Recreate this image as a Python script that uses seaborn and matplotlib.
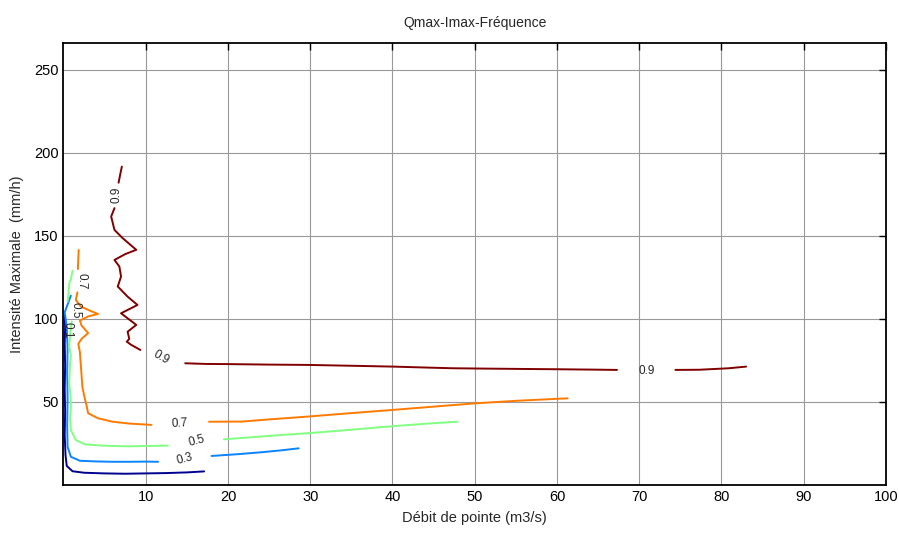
import matplotlib
matplotlib.use('Agg')
import pandas as pd
import matplotlib.pyplot as plt
import seaborn as sns

sns.set_style('white')
plt.rcParams['font.family'] = ['Liberation Sans', 'DejaVu Sans']

# Contour lines (Q in m3/s, I in mm/h), split where labels sit
q01 = [0.15, 0.2, 0.15, 0.2, 0.15, 0.2, 0.15, 0.25, 0.4, 1.1, 2.5, 5, 7.5, 10, 12.5, 15, 17.1]
i01 = [102, 95, 85, 72, 58, 44, 30, 18, 11.5, 8.3, 7.4, 7.0, 6.8, 7.0, 7.2, 7.6, 8.2]

q03a = [0.9, 0.6, 0.15, 0.4, 0.5, 0.45, 0.5, 0.45, 0.5, 0.9, 2.0, 4, 6, 8, 10, 11.5]
i03a = [114, 110, 104, 95, 82, 68, 52, 36, 23, 17, 14.6, 14.2, 14.0, 14.0, 14.1, 14.0]
q03b = [18.0, 21.0, 24.0, 26.5, 28.6]
i03b = [17.5, 18.5, 19.7, 20.9, 22.1]

q05a = [1.1, 0.9, 0.7, 0.6, 0.5]
i05a = [129, 124, 121.5, 115, 110.5]
q05b = [1.0, 0.8, 0.7, 0.9, 0.8, 0.75, 0.7, 0.85, 0.9, 0.8, 0.9, 1.5, 2.6, 4.5, 6.0, 8.0, 10, 12.7]
i05b = [98.5, 90, 83.3, 78, 73.3, 67, 61.3, 54, 47.2, 40, 33.1, 27.1, 24.5, 23.8, 23.5, 23.3, 23.5, 23.7]
q05c = [19.5, 25, 30, 35, 40, 44, 47.9]
i05c = [27.5, 29.6, 31.3, 33.3, 35.4, 36.9, 38.1]

q07a = [1.85, 1.8, 1.75]
i07a = [141.5, 136, 130]
q07b = [1.7, 1.5, 2.1, 3.2, 4.2, 3.0, 2.0, 2.2, 3.0, 2.2, 1.8, 2.0, 2.1, 2.2, 2.3, 2.6, 2.8, 3.0,
        4.2, 6.0, 8.0, 10.7]
i07b = [116, 111.5, 107.5, 105, 103, 101.5, 99, 96, 91.5, 88, 85, 80, 73, 66, 59, 52, 48, 43.2,
        40.2, 38.1, 37, 36.2]
q07c = [17.7, 21.7, 25, 29.4, 35, 40, 45, 50.1, 55.4, 61.3]
i07c = [38.1, 38.2, 39.5, 41.1, 43.3, 45.2, 47.2, 49.2, 50.8, 52.2]

q09a = [7.1, 6.9, 6.7]
i09a = [191.7, 187, 182]
q09b = [6.2, 5.8, 6.2, 7.2, 8.85, 7.5, 6.2, 6.8, 7.0, 6.6, 7.8, 9.0, 7.0, 8.85, 7.8, 8.0, 7.7,
        8.2, 9.35]
i09b = [166.7, 161.6, 153.6, 148.6, 141.6, 139, 135.5, 131.5, 125.5, 119.5, 113.4, 108.4, 103.4,
        96.4, 92.3, 88, 86.3, 84.5, 81.3]
q09c = [14.8, 17.3, 20, 25, 29.8, 35, 40, 45, 47.3, 51, 55.4, 60, 64, 67.3]
i09c = [73.3, 72.9, 72.8, 72.5, 72.3, 71.8, 71.3, 70.6, 70.3, 70.1, 69.9, 69.7, 69.5, 69.3]
q09d = [74.4, 77.3, 80.9, 83.0]
i09d = [69.3, 69.4, 70.3, 71.3]

levels = ['0.1', '0.3', '0.5', '0.7', '0.9']
segments = [
    ('0.1', q01, i01),
    ('0.3', q03a, i03a), ('0.3', q03b, i03b),
    ('0.5', q05a, i05a), ('0.5', q05b, i05b), ('0.5', q05c, i05c),
    ('0.7', q07a, i07a), ('0.7', q07b, i07b), ('0.7', q07c, i07c),
    ('0.9', q09a, i09a), ('0.9', q09b, i09b), ('0.9', q09c, i09c), ('0.9', q09d, i09d),
]

# inline contour labels: text, Q, I, rotation
clabels = [
    ('0.1', 0.55, 93, -90),
    ('0.3', 14.7, 15.8, 15),
    ('0.5', 1.45, 105, -90),
    ('0.5', 16.2, 26.3, 15),
    ('0.7', 2.25, 122.5, -90),
    ('0.7', 14.1, 36.8, 3),
    ('0.9', 6.4, 174.5, 90),
    ('0.9', 11.9, 76.5, -30),
    ('0.9', 70.9, 68.8, 0),
]

rows = []
for k, (lvl, q, i) in enumerate(segments):
    for a, b in zip(q, i):
        rows.append((a, b, lvl, k))
df = pd.DataFrame(rows, columns=['Q', 'I', 'level', 'seg'])

# MATLAB-like jet colours for the 5 levels
palette = dict(zip(levels, ['#00008f', '#0a84ff', '#80ff80', '#ff7a00', '#800000']))

fig, ax = plt.subplots(figsize=(8.99, 5.33), dpi=100)
fig.subplots_adjust(left=0.0706, right=0.9855, bottom=0.09, top=0.919)

sns.lineplot(data=df, x='Q', y='I', hue='level', units='seg', estimator=None, sort=False,
             palette=palette, linewidth=1.4, legend=False, ax=ax)

for txt, x, y, rot in clabels:
    ax.text(x, y, txt, rotation=rot, ha='center', va='center', fontsize=8.5,
            color='0.15', rotation_mode='anchor')

ax.set_xlim(0, 100)
ax.set_ylim(0, 266)
ax.set_xticks(range(10, 101, 10))
ax.set_yticks(range(50, 251, 50))
ax.grid(True, color='0.6', linewidth=0.8)
ax.tick_params(direction='in', top=True, right=True, length=5, width=1, labelsize=10.5,
               colors='black')
for s in ax.spines.values():
    s.set_color('black')
    s.set_linewidth(1.3)

ax.set_title('Qmax-Imax-Fréquence', fontsize=10, pad=12)
ax.set_xlabel('Débit de pointe (m3/s)', fontsize=10.5, labelpad=5)
ax.set_ylabel('Intensité Maximale  (mm/h)', fontsize=10.5, labelpad=7)

plt.savefig('out.png', dpi=100)
